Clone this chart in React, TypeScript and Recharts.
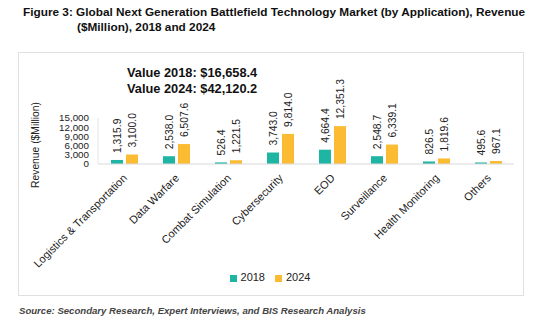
import React from "react";
import { Bar, BarChart, Legend, XAxis, YAxis } from "recharts";

const categories = [
  "Logistics & Transportation",
  "Data Warfare",
  "Combat Simulation",
  "Cybersecurity",
  "EOD",
  "Surveillance",
  "Health Monitoring",
  "Others",
];
const values2018 = [1315.9, 2538.0, 526.4, 3743.0, 4664.4, 2548.7, 826.5, 495.6];
const values2024 = [3100.0, 6507.6, 1221.5, 9814.0, 12351.3, 6339.1, 1819.6, 967.1];
const yTicks = [0, 3000, 6000, 9000, 12000, 15000];

const FONT = '"Liberation Sans", Arial, sans-serif';
const TEAL = "#1fb5a3";
const GOLD = "#fbbc34";

const fmt = (v: number) =>
  v.toLocaleString("en-US", { minimumFractionDigits: 1, maximumFractionDigits: 1 });

function BarValue(props: any) {
  const { x, y, width, value } = props;
  const cx = x + width / 2;
  const ty = y - 7;
  return (
    <text
      x={cx}
      y={ty}
      dy="0.35em"
      transform={`rotate(-90 ${cx} ${ty})`}
      textAnchor="start"
      fontSize={10.3}
      fontFamily={FONT}
      fill="#222"
    >
      {fmt(value)}
    </text>
  );
}

function CatTick(props: any) {
  const { x, y, payload } = props;
  const tx = x + 1;
  const ty = y + 4;
  return (
    <text
      x={tx}
      y={ty}
      dy="0.35em"
      transform={`rotate(-45 ${tx} ${ty})`}
      textAnchor="end"
      fontSize={11}
      fontFamily={FONT}
      fill="#222"
    >
      {payload.value}
    </text>
  );
}

function YTitle() {
  return (
    <text
      x={35}
      y={145}
      dy="0.35em"
      transform="rotate(-90 35 145)"
      textAnchor="middle"
      fontSize={10.3}
      fontFamily={FONT}
      fill="#222"
    >
      Revenue ($Million)
    </text>
  );
}

export default function App() {
  const data = categories.map((name, i) => ({
    name,
    v2018: values2018[i],
    v2024: values2024[i],
  }));

  return (
    <div style={{ position: "absolute", left: 0, top: 0, width: 550, height: 330, background: "#fff", fontFamily: FONT }}>
      <div style={{ position: "absolute", left: 23, top: 5, fontSize: 11.8, fontWeight: "bold", color: "#111", whiteSpace: "nowrap", lineHeight: "15px" }}>
        Figure 3: Global Next Generation Battlefield Technology Market (by Application), Revenue
        <br />
        <span style={{ paddingLeft: 54 }}>($Million), 2018 and 2024</span>
      </div>
      <div style={{ position: "absolute", left: 18, top: 52, width: 506, height: 244, border: "1px solid #e0e0e0", boxSizing: "border-box" }} />
      <div style={{ position: "absolute", left: 127, top: 65, fontSize: 12.8, fontWeight: "bold", color: "#111", lineHeight: "16px", whiteSpace: "nowrap" }}>
        Value 2018: $16,658.4
        <br />
        Value 2024: $42,120.2
      </div>
      <div style={{ position: "absolute", left: 19, top: 305, fontSize: 9.6, fontWeight: "bold", fontStyle: "italic", color: "#444", whiteSpace: "nowrap" }}>
        Source: Secondary Research, Expert Interviews, and BIS Research Analysis
      </div>
      <div style={{ position: "absolute", left: 0, top: 0 }}>
        <BarChart
          width={550}
          height={330}
          data={data}
          margin={{ top: 118, right: 36, bottom: 124, left: 38 }}
          barSize={12}
          barGap={3}
        >
          <XAxis
            dataKey="name"
            height={30}
            axisLine={{ stroke: "#d9d9d9" }}
            tickLine={false}
            interval={0}
            tick={<CatTick />}
          />
          <YAxis
            width={60}
            domain={[0, 15000]}
            ticks={yTicks}
            interval={0}
            axisLine={{ stroke: "#e3e3e3" }}
            tickLine={false}
            tickSize={0}
            tickMargin={9}
            tickFormatter={(v: number) => v.toLocaleString("en-US")}
            tick={{ fontSize: 9.8, fontFamily: FONT, fill: "#222" }}
            label={<YTitle />}
          />
          <Legend
            iconType="square"
            iconSize={7}
            wrapperStyle={{ position: "absolute", top: 271, left: 0, width: 550, fontSize: 11, fontFamily: FONT, color: "#222" }}
            formatter={(v: string) => <span style={{ color: "#222" }}>{v}</span>}
          />
          <Bar dataKey="v2018" name="2018" fill={TEAL} isAnimationActive={false} label={<BarValue />} />
          <Bar dataKey="v2024" name="2024" fill={GOLD} isAnimationActive={false} label={<BarValue />} />
        </BarChart>
      </div>
    </div>
  );
}
